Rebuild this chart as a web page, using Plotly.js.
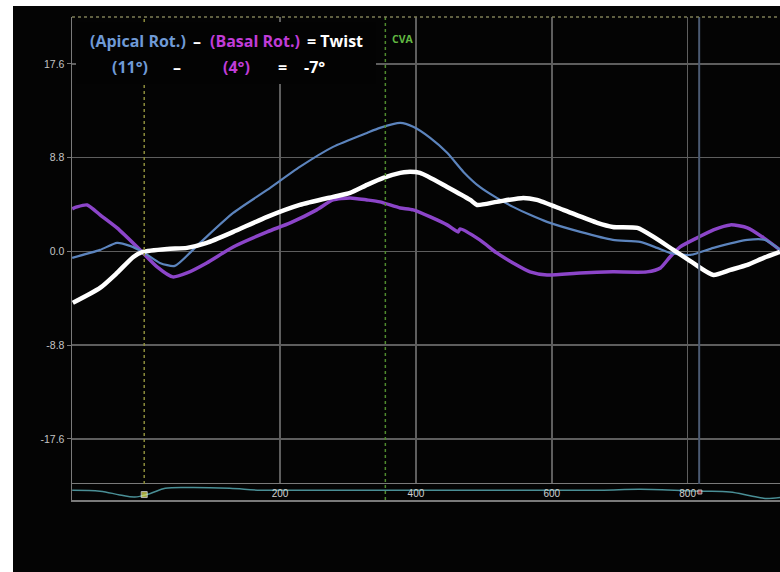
<!DOCTYPE html>
<html>
<head>
<meta charset="utf-8">
<script src="https://cdn.plot.ly/plotly-3.0.1.min.js"></script>
<style>html,body{margin:0;padding:0;background:#000;}#chart{width:780px;height:572px;}</style>
</head>
<body>
<div id="chart"></div>
<script>
// ---- data (time in ms, rotation in degrees) ----
const apicalX = [-106,-65,-40,-21,-2,23,45,82,131,181,229,278,328,347,377,396,421,446,470,494,519,543,568,593,642,690,730,755,774,804,838,888,914,936];
const apicalY = [-0.61,0.14,0.80,0.52,-0.05,-1.08,-1.36,0.80,3.61,5.77,7.93,9.81,11.12,11.59,12.06,11.69,10.65,9.25,7.46,6.05,5.02,4.18,3.43,2.77,1.83,1.08,0.89,0.33,-0.14,-0.33,0.33,1.08,1.08,0.14];

const basalX = [-106,-99,-84,-65,-40,-6,19,42,63,92,131,181,215,254,278,303,328,347,377,396,446,462,465,494,519,543,568,593,642,690,740,760,774,789,814,838,863,888,912,936];
const basalY = [4.0,4.18,4.36,3.43,2.21,0.14,-1.45,-2.39,-2.02,-1.08,0.42,1.83,2.68,3.90,4.83,5.02,4.83,4.65,4.08,3.90,2.49,1.83,2.11,1.08,-0.14,-1.08,-1.92,-2.21,-2.02,-1.92,-1.92,-1.55,-0.52,0.42,1.27,2.02,2.49,2.21,1.27,0.14];

const twistX = [-105,-65,-40,-16,-2,34,63,92,131,181,229,278,303,328,352,377,387,406,446,480,490,519,558,578,617,667,690,726,750,779,808,838,863,888,912,936];
const twistY = [-4.83,-3.43,-2.02,-0.52,-0.05,0.23,0.33,0.80,1.83,3.24,4.36,5.12,5.49,6.24,6.90,7.37,7.46,7.37,6.05,4.83,4.36,4.65,5.02,4.83,3.90,2.68,2.30,2.21,1.36,0.14,-1.08,-2.21,-1.74,-1.27,-0.61,-0.05];

const ecgX = [-106,-65,-36,-14,9,31,67,126,171,229,377,524,671,730,818,862,892,914,936];
const ecgY = [0.25,0.12,-0.4,-0.7,-0.2,0.5,0.62,0.5,0.25,0.25,0.25,0.25,0.25,0.38,0.12,0,-0.5,-0.88,-0.75];

const eventX = [0, 355, 817];          // event markers (ms)
const markerX = [0, 818];
const markerY = [-0.35, 0.0];

const xTicks = [200, 400, 600, 800];
const yTicks = [17.6, 8.8, 0, -8.8, -17.6];
const yTickText = ['17.6', '8.8', '0.0', '-8.8', '-17.6'];

// ---- helpers for pixel-placed decorations ----
const L = 72, R = 780, T = 17, B = 500;
const px = v => (v - L) / (R - L);
const py = v => (B - v) / (B - T);

const traces = [
  {x: basalX, y: basalY, mode: 'lines', line: {color: '#8c45c9', width: 3.5, shape: 'spline', smoothing: 0.6}, xaxis: 'x', yaxis: 'y', hoverinfo: 'skip'},
  {x: apicalX, y: apicalY, mode: 'lines', line: {color: '#5c84bd', width: 2.2, shape: 'spline', smoothing: 0.6}, xaxis: 'x', yaxis: 'y', hoverinfo: 'skip'},
  {x: twistX, y: twistY, mode: 'lines', line: {color: '#ffffff', width: 4.5, shape: 'spline', smoothing: 0.6}, xaxis: 'x', yaxis: 'y', hoverinfo: 'skip'},
  {x: ecgX, y: ecgY, mode: 'lines', line: {color: '#4a8f96', width: 1.5, shape: 'spline'}, xaxis: 'x2', yaxis: 'y2', hoverinfo: 'skip'},
  {x: markerX, y: markerY, mode: 'markers', marker: {color: ['#e8e85a', '#d03030'], size: [6, 4], symbol: 'square'}, xaxis: 'x2', yaxis: 'y2', hoverinfo: 'skip'}
];

const blue = '#6f9ad6', mag = '#c03cd8', wht = '#ffffff';
const tf = (c, s) => ({family: 'Open Sans, Liberation Sans, sans-serif', size: s || 16, color: c});
function ann(text, xp, yp, color, size) {
  return {text: '<b>' + text + '</b>', xref: 'paper', yref: 'paper', x: px(xp), y: py(yp), xanchor: 'center', yanchor: 'middle', showarrow: false, font: tf(color, size)};
}

const annotations = [
  ann('(Apical Rot.)', 138, 41, blue),
  ann('–', 197, 41, wht),
  ann('(Basal Rot.)', 255, 41, mag),
  ann('= Twist', 335, 41, wht),
  ann('(11°)', 130, 67, blue),
  ann('–', 177, 67, wht),
  ann('(4°)', 236, 67, mag),
  ann('=', 282, 67, wht),
  ann('-7°', 314, 67, wht),
  ann('CVA', 403, 39, '#62b842', 10.5)
];

const shapes = [
  // event lines
  {type: 'line', xref: 'x', yref: 'paper', x0: eventX[0], x1: eventX[0], y0: 0.033, y1: 1, line: {color: '#8c8c3c', width: 1.5, dash: 'dot'}},
  {type: 'line', xref: 'x', yref: 'paper', x0: eventX[1], x1: eventX[1], y0: 0, y1: 1, line: {color: '#4f8a2e', width: 1.5, dash: 'dot'}},
  {type: 'line', xref: 'x', yref: 'paper', x0: eventX[2], x1: eventX[2], y0: 0.033, y1: 1, line: {color: '#4b5a72', width: 2}},
  // top dotted border
  {type: 'line', xref: 'paper', yref: 'paper', x0: 0, x1: 1, y0: 1, y1: 1, line: {color: '#7d7d55', width: 1.5, dash: 'dot'}},
  // dark box behind formula
  {type: 'rect', xref: 'paper', yref: 'paper', x0: px(76), x1: px(376), y0: py(84), y1: py(22), fillcolor: '#030303', line: {width: 0}, layer: 'above'},
  // white photo border
  {type: 'rect', xref: 'paper', yref: 'paper', x0: px(-5), x1: px(13), y0: py(580), y1: py(-5), fillcolor: '#ffffff', line: {width: 0}},
  {type: 'rect', xref: 'paper', yref: 'paper', x0: px(-5), x1: px(790), y0: py(6), y1: py(-5), fillcolor: '#ffffff', line: {width: 0}}
];

const layout = {
  width: 780, height: 572,
  margin: {l: L, r: 780 - R, t: T, b: 572 - B},
  paper_bgcolor: '#040404', plot_bgcolor: '#040404',
  showlegend: false,
  xaxis: {domain: [0, 1], range: [-106.3, 936], anchor: 'y', tickvals: xTicks, showticklabels: false, ticks: '',
          showgrid: true, gridcolor: '#5e5e5e', gridwidth: 1.6, zeroline: false, showline: false},
  xaxis2: {domain: [0, 1], matches: 'x', anchor: 'y2', tickvals: xTicks, ticktext: xTicks.map(String),
           ticklabelposition: 'inside', ticks: '', showgrid: false, zeroline: false,
           showline: true, mirror: true, linecolor: '#7a7a7a', linewidth: 1.5,
           tickfont: {family: 'Liberation Sans, sans-serif', size: 10, color: '#d0d0d0'}},
  yaxis: {domain: [16 / 483, 1], range: [-21.83, 22.0], anchor: 'x', tickvals: yTicks, ticktext: yTickText,
          showgrid: true, gridcolor: '#5e5e5e', gridwidth: 1.6, zeroline: false,
          showline: true, linecolor: '#7a7a7a', linewidth: 1.5, ticks: 'outside', ticklen: 4, tickcolor: '#7a7a7a',
          tickfont: {family: 'Liberation Sans, sans-serif', size: 10.5, color: '#c4c4c4'}},
  yaxis2: {domain: [0, 16 / 483], range: [-1.1, 1.1], anchor: 'x2', showticklabels: false, showgrid: false,
           zeroline: false, showline: true, linecolor: '#7a7a7a', linewidth: 1.5, ticks: ''},
  shapes: shapes,
  annotations: annotations
};

Plotly.newPlot('chart', traces, layout, {displayModeBar: false, staticPlot: true});
</script>
</body>
</html>
